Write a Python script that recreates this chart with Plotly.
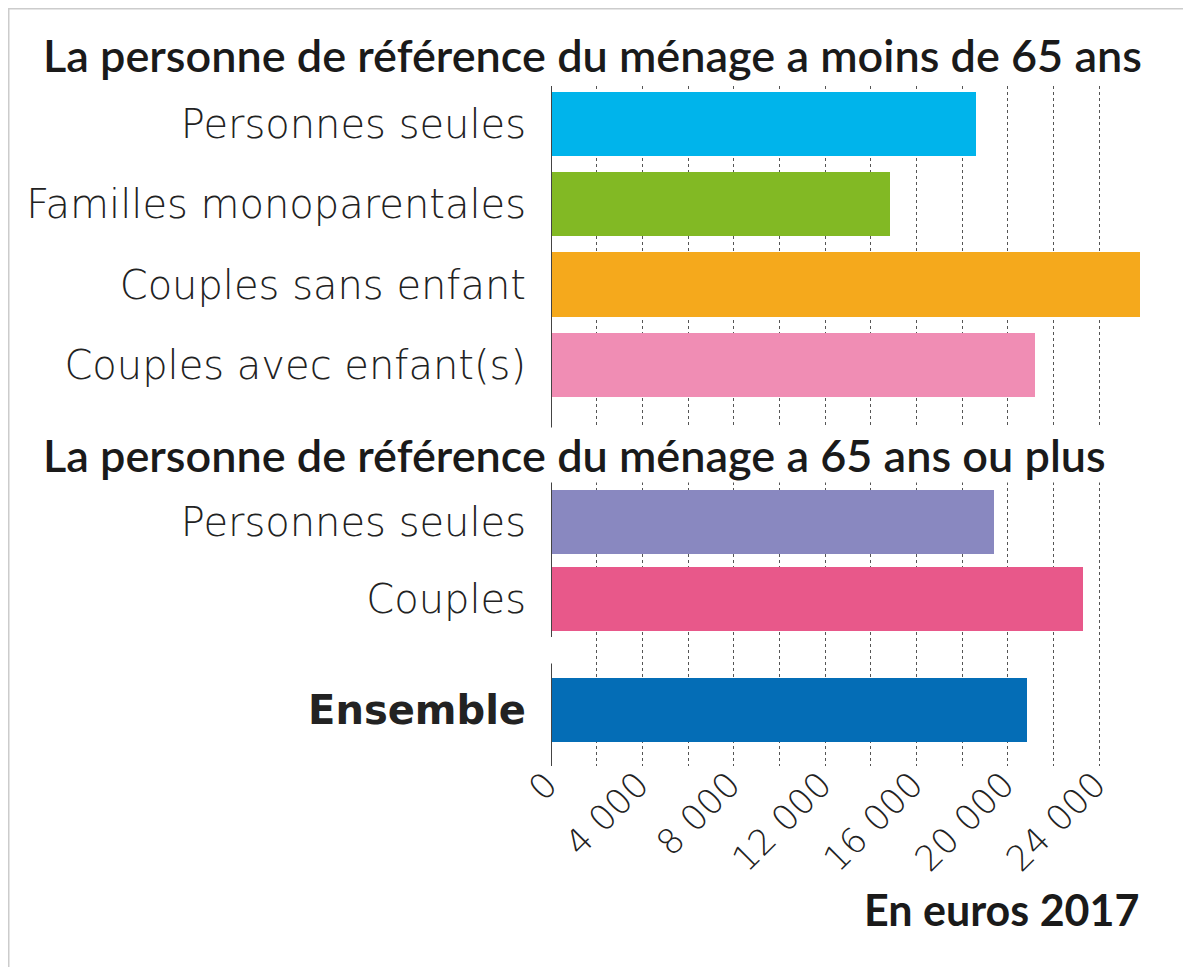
import plotly.graph_objects as go

# ---- data ----
categories = ["Personnes seules", "Familles monoparentales", "Couples sans enfant",
              "Couples avec enfant(s)", "Personnes seules", "Couples", "<b>Ensemble</b>"]
values = [18600, 14850, 25800, 21200, 19400, 23300, 20820]
colors = ["#00b4eb", "#82b924", "#f5a91c", "#f08db4", "#8988c0", "#e8588a", "#046db6"]
group_titles = ["La personne de référence du ménage a moins de 65 ans",
                "La personne de référence du ménage a 65 ans ou plus"]
tick_values = [0, 4000, 8000, 12000, 16000, 20000, 24000]
tick_labels = ["0", "4 000", "8 000", "12 000", "16 000", "20 000", "24 000"]
unit_label = "En euros 2017"

# ---- layout positions (slot units) ----
ypos = [0, 1, 2, 3, 4.956, 5.92, 7.30]

OFF = 8  # page body margin
W, H = 1191 - OFF, 967 - OFF
L, R, T, B = 551 - OFF, 1145 - OFF, 86 - OFF, 766 - OFF
PW, PH = R - L, B - T
FONT = "DejaVu Sans"
HFONT = "Lato"


def px_x(x):  # reference pixel -> paper
    return (x - OFF - L) / PW


def px_y(y):
    return 1 - (y - OFF - T) / PH


fig = go.Figure()
fig.add_trace(go.Bar(
    x=values, y=ypos, orientation="h", width=0.8,
    marker=dict(color=colors, line=dict(width=0)),
    showlegend=False, hoverinfo="x",
))

grid_vals = list(range(0, 26001, 2000))
text_map = dict(zip(tick_values, tick_labels))
fig.update_xaxes(
    range=[0, 26000], showline=False, zeroline=False,
    tickvals=grid_vals, ticktext=[text_map.get(v, "") for v in grid_vals],
    tickangle=-45, ticks="", ticklabelstandoff=-10, ticklabelshift=-4,
    showgrid=True, gridcolor="#555555", gridwidth=1, griddash="dot",
    tickfont=dict(family=FONT, size=35, color="#222222", weight=200),
)
fig.update_yaxes(
    range=[7.995, -0.473], showgrid=False, zeroline=False, showline=False,
    tickvals=ypos, ticktext=categories, ticks="", ticklabelstandoff=24,
    tickfont=dict(family=FONT, size=40, color="#222222", weight=200),
)

# axis line segments
fig.add_shape(type="line", xref="x", yref="y", x0=0, x1=0, y0=-0.473, y1=6.39,
              line=dict(color="#444444", width=2))
fig.add_shape(type="line", xref="x", yref="y", x0=0, x1=0, y0=6.72, y1=7.995,
              line=dict(color="#444444", width=2))

# group headers
for t, yc in zip(group_titles, [55, 455]):
    fig.add_annotation(text=t, xref="paper", yref="paper", x=px_x(42), y=px_y(yc),
                       xanchor="left", yanchor="middle", showarrow=False,
                       bgcolor="white", borderpad=0,
                       font=dict(family=HFONT, size=45, color="#1a1a1a", weight=600))

fig.add_annotation(text=unit_label, xref="paper", yref="paper",
                   x=px_x(1141), y=px_y(910), xanchor="right",
                   yanchor="middle", showarrow=False,
                   font=dict(family=HFONT, size=43, color="#1a1a1a", weight=700))

# frame
fig.add_shape(type="line", xref="paper", yref="paper",
              x0=px_x(8), x1=px_x(1200), y0=px_y(8), y1=px_y(8),
              line=dict(color="#cccccc", width=3))
fig.add_shape(type="line", xref="paper", yref="paper",
              x0=px_x(8), x1=px_x(8), y0=px_y(8), y1=px_y(980),
              line=dict(color="#cccccc", width=3))

fig.update_layout(
    width=W, height=H, margin=dict(l=L, r=W - R, t=T, b=H - B),
    plot_bgcolor="white", paper_bgcolor="white", bargap=0,
    font=dict(family=FONT),
)
fig.write_html("out.html")
